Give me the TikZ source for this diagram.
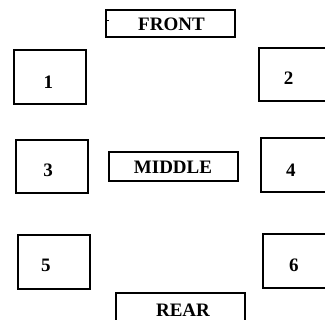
\documentclass[tikz,border=0pt]{standalone}
\usepackage{fontspec}
\setmainfont{Liberation Serif}
\begin{document}
\begin{tikzpicture}[x=1pt,y=-1pt,
  seat/.style={draw=black,line width=1.2pt,rectangle,minimum width=72pt,minimum height=54pt,inner sep=0pt},
  bar/.style={draw=black,line width=1.2pt,rectangle,minimum width=129pt,minimum height=28pt,inner sep=0pt},
  lbl/.style={inner sep=0pt,font=\fontsize{19}{19}\selectfont\bfseries}]
\useasboundingbox (0,0) rectangle (325,320);
\clip (0,0) rectangle (325,320);
% boxes
\node[bar,minimum height=27pt] (front) at (170.5,23.5) {};
\node[bar,minimum height=29pt] (middle) at (173.5,166.5) {};
\node[bar,minimum height=30pt] (rear) at (180.5,308) {};
\node[seat] (s1) at (50,77) {};
\node[seat,minimum height=53pt] (s2) at (295,74.5) {};
\node[seat,minimum height=53pt] (s3) at (52,166.5) {};
\node[seat] (s4) at (297,165) {};
\node[seat] (s5) at (54,262) {};
\node[seat] (s6) at (299,261) {};
% labels
\node[lbl] (tfront) at (171.5,24.5) {FRONT};
\node[lbl] (tmiddle) at (173,167) {MIDDLE};
\node[lbl] (trear) at (183,310.5) {REAR};
\node[lbl] (t1) at (48.5,82.5) {1};
\node[lbl] (t2) at (288.5,78.5) {2};
\node[lbl] (t3) at (48,170) {3};
\node[lbl] (t4) at (291,170) {4};
\node[lbl] (t5) at (46,265.5) {5};
\node[lbl] (t6) at (294,265) {6};
% small tick inside FRONT box
\coordinate (tickA) at (107,20.5);
\coordinate (tickB) at (109.5,20.5);
\draw[line width=0.8pt] (tickA) -- (tickB);
\end{tikzpicture}
\end{document}
